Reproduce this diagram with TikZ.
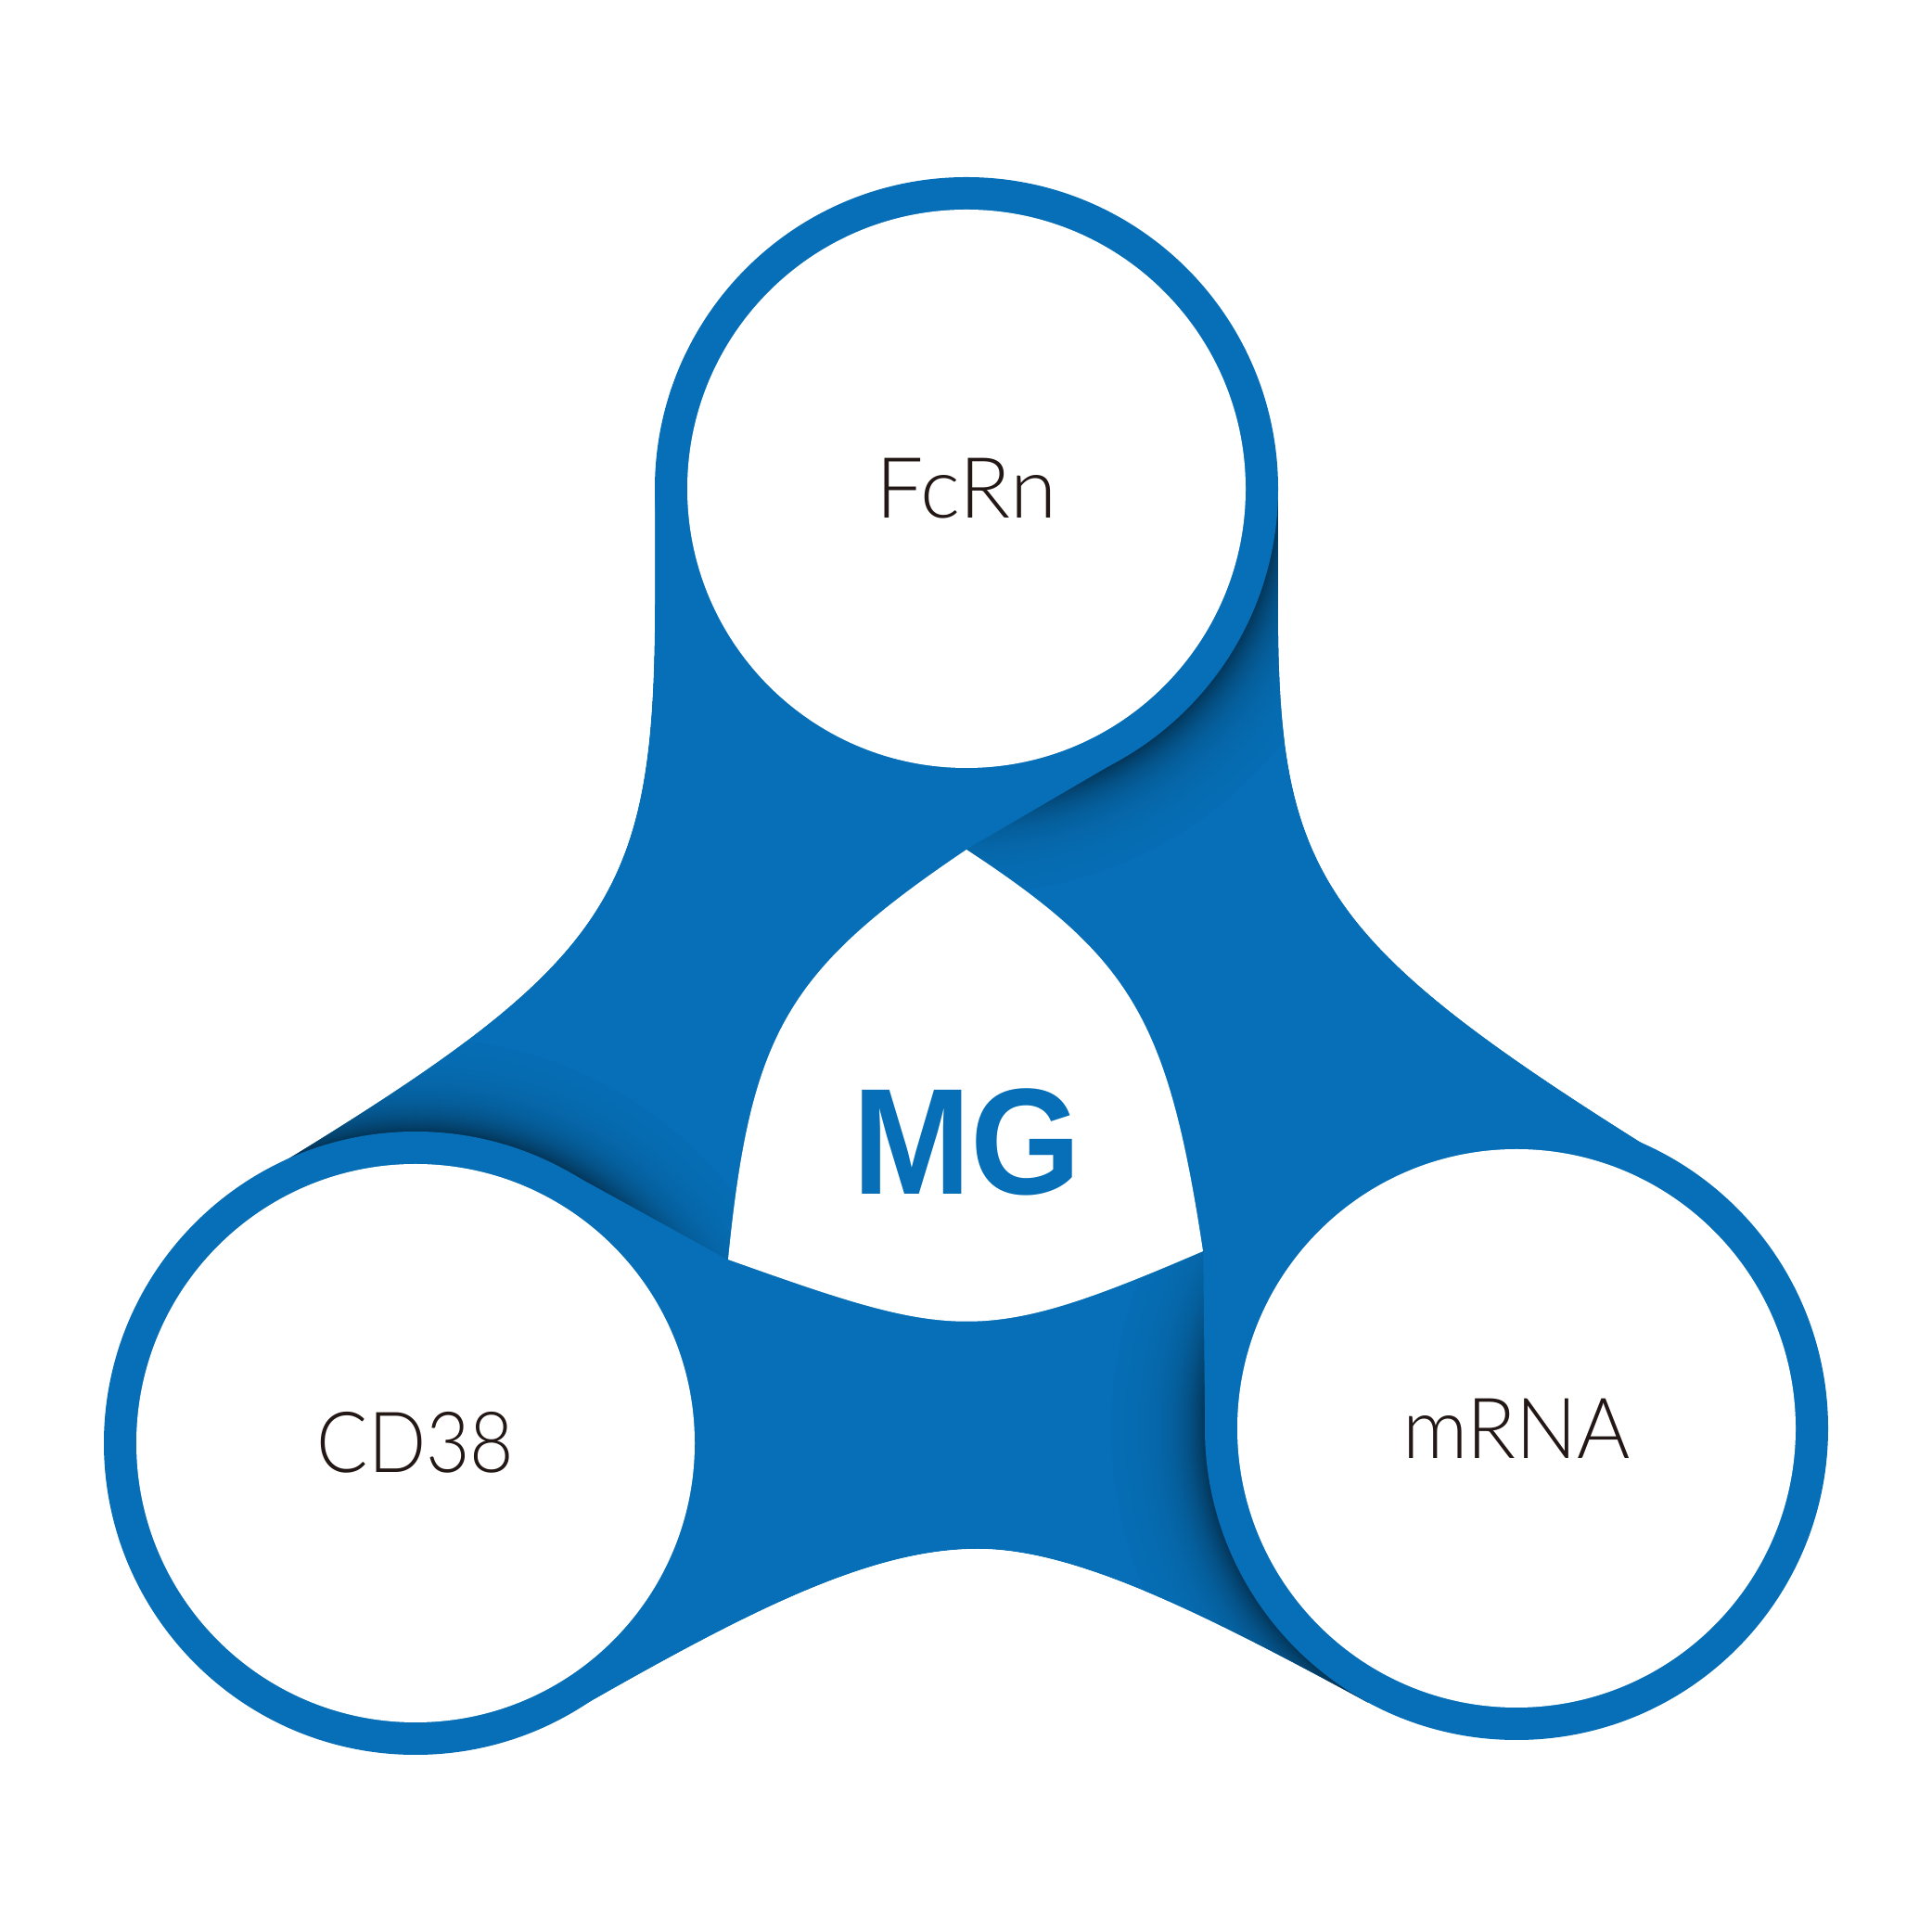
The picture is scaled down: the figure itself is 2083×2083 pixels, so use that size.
\documentclass[tikz,border=0pt]{standalone}
\usepackage{fontspec}
\usetikzlibrary{calc}
\IfFontExistsTF{Lato Light}{\newfontfamily\lightfont{Lato Light}}{\newfontfamily\lightfont{Noto Sans}}
\newfontfamily\mgfont{Liberation Sans}
\definecolor{mgblue}{RGB}{6,111,183}
\definecolor{labeltext}{RGB}{35,24,21}
\newcommand\ringshadowat[1]{%
  \foreach \d in {100,99,...,0} {%
    \pgfmathsetmacro\pp{100-50*exp(-\d/28)}%
    \fill[mgblue!\pp!black, even odd rule] (#1) circle[radius=337+\d] (#1) circle[radius=335+\d];
  }}
\begin{document}
\begin{tikzpicture}[x=1pt,y=1pt,
  ringdisk/.style={fill=mgblue},
  innerdisk/.style={fill=white},
  lbltext/.style={font=\lightfont\fontsize{91}{91}\selectfont, text=labeltext, anchor=base, inner sep=0pt},
  mglabel/.style={font=\mgfont\bfseries\fontsize{163}{163}\selectfont, text=mgblue, anchor=base, inner sep=0pt},
  mainshape/.style={insert path={(T) -- (706,1556) -- (706,1433) .. controls (705,1106) and (660,1043) .. (250,797) -- (L) -- (627,243) .. controls (806,345) and (938,413) .. (1054,413) .. controls (1157,413) and (1291,347) .. (1475,247) -- (R) -- (1852,800) .. controls (1425,1062) and (1378,1125) .. (1378,1433) -- (1378,1556) -- cycle}}
]
\useasboundingbox (0,0) rectangle (2083,2083);
\fill[white] (0,0) rectangle (2083,2083);
% centres and key points
\coordinate (T) at (1042,1556);
\coordinate (L) at (448,527);
\coordinate (R) at (1635,543);
\coordinate (VT) at (1042,1167);
\coordinate (VL) at (785,725);
\coordinate (VR) at (1297,734);
\coordinate (PT) at ($(T)+(-59.75:336)$);
\coordinate (PL) at ($(L)+(61.1:336)$);
\coordinate (PR) at ($(R)+(180.6:336)$);
% blue body
\fill[mgblue, mainshape];
% shadows
\begin{scope}
  \clip[mainshape];
  \clip (VT) -- (PT) -- (T) -- ++(800,0) -- (1842,667) -- (1042,667) -- cycle;
  \ringshadowat{T}
\end{scope}
\begin{scope}
  \clip[mainshape];
  \clip (VL) -- (PL) -- (L) -- ($(L)+(126.3:800)$) -- ++(30:900) -- ++(-60:800) -- cycle;
  \ringshadowat{L}
\end{scope}
\begin{scope}
  \clip[mainshape];
  \clip (VR) -- (PR) -- (R) -- ($(R)+(241.6:800)$) -- ++(150:900) -- ++(60:800) -- cycle;
  \ringshadowat{R}
\end{scope}
% clean outer edge
\fill[white, even odd rule] (-10,-10) rectangle (2093,2093) [mainshape];
% central hole
\fill[white] (VT) .. controls (848,1036) and (809.5,970) .. (VL) .. controls (1030,638) and (1058,631) .. (VR) .. controls (1259,985) and (1220,1050) .. (VT) -- cycle;
% circles
\fill[ringdisk] (T) circle[radius=336];
\fill[innerdisk] (T) circle[radius=301];
\fill[ringdisk] (L) circle[radius=336];
\fill[innerdisk] (L) circle[radius=301];
\fill[ringdisk] (R) circle[radius=336];
\fill[innerdisk] (R) circle[radius=301];
% labels
\node[lbltext] (fcrn) at (1042,1524) {FcRn};
\node[lbltext] (cd38) at (448,495) {\scalebox{0.9}[1]{CD38}};
\node[lbltext] (mrna) at (1635,510) {\scalebox{0.96}[1]{mRNA}};
\node[mglabel] (mg) at (1042.5,795) {\scalebox{0.94}[1]{MG}};
\end{tikzpicture}
\end{document}
